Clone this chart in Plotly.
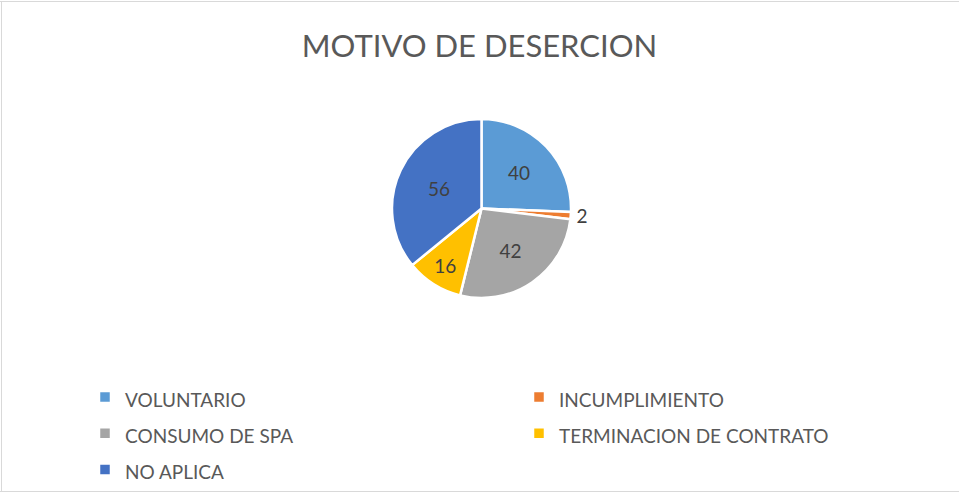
# Import dependencies
import plotly.graph_objects as go

# Data
labels = ['VOLUNTARIO', 'INCUMPLIMIENTO', 'CONSUMO DE SPA', 'TERMINACION DE CONTRATO', 'NO APLICA']
values = [40, 2, 42, 16, 56]
colors = ['#5B9BD5', '#ED7D31', '#A5A5A5', '#FFC000', '#4472C4']
text_pos = ['inside', 'outside', 'inside', 'inside', 'inside']

W, H = 959, 493
# Keep a bottom margin so the legend never pushes the plot area around
B = 60
PH = H - B

# Convert a pixel position (from the top / left of the figure) to paper coords
def py(y):
    return (PH - y) / PH

def px(x):
    return x / W

# Legend rows are spaced wider than the text, so the legend font is larger
# and the label text itself is set back to the smaller size
legend_labels = [f'<span style="font-size:19px">{l}</span>' for l in labels]

pie = go.Pie(labels = legend_labels,
             values = values,
             sort = False,
             direction = 'clockwise',
             rotation = 0,
             marker = dict(colors = colors, line = dict(color = 'white', width = 2.5)),
             textinfo = 'value',
             textposition = text_pos,
             insidetextorientation = 'horizontal',
             textfont = dict(size = 19, color = '#404040', family = 'Lato'),
             outsidetextfont = dict(size = 19, color = '#404040', family = 'Lato'),
             domain = dict(x = [px(392), px(571)], y = [py(298), py(119)]),
             hovertemplate = '%{label}: %{value}<extra></extra>')

fig = go.Figure(data = [pie])

border = dict(color = '#D9D9D9', width = 1)
fig.update_layout(width = W, height = H,
                  margin = dict(l = 0, r = 0, t = 0, b = B),
                  paper_bgcolor = 'white',
                  title = dict(text = 'MOTIVO DE DESERCION',
                               x = 0.5, xanchor = 'center',
                               y = 1 - 46 / H, yanchor = 'middle',
                               font = dict(size = 31, color = '#595959', family = 'Lato')),
                  showlegend = True,
                  legend = dict(orientation = 'h',
                                x = px(85), xanchor = 'left',
                                y = py(493), yanchor = 'bottom',
                                entrywidth = 389, entrywidthmode = 'pixels',
                                traceorder = 'normal',
                                bgcolor = 'rgba(0,0,0,0)',
                                font = dict(size = 25.5, color = '#595959', family = 'Lato')),
                  shapes = [dict(type = 'line', xref = 'paper', yref = 'paper',
                                 x0 = 0, x1 = 1, y0 = py(1.5), y1 = py(1.5), line = border),
                            dict(type = 'line', xref = 'paper', yref = 'paper',
                                 x0 = 0, x1 = 1, y0 = py(491.5), y1 = py(491.5), line = border),
                            dict(type = 'line', xref = 'paper', yref = 'paper',
                                 x0 = px(1.5), x1 = px(1.5), y0 = py(1.5), y1 = py(491.5), line = border)])

fig.write_html("out.html", config = {'displayModeBar': False},
               post_script = "document.body.style.margin = '0';")
